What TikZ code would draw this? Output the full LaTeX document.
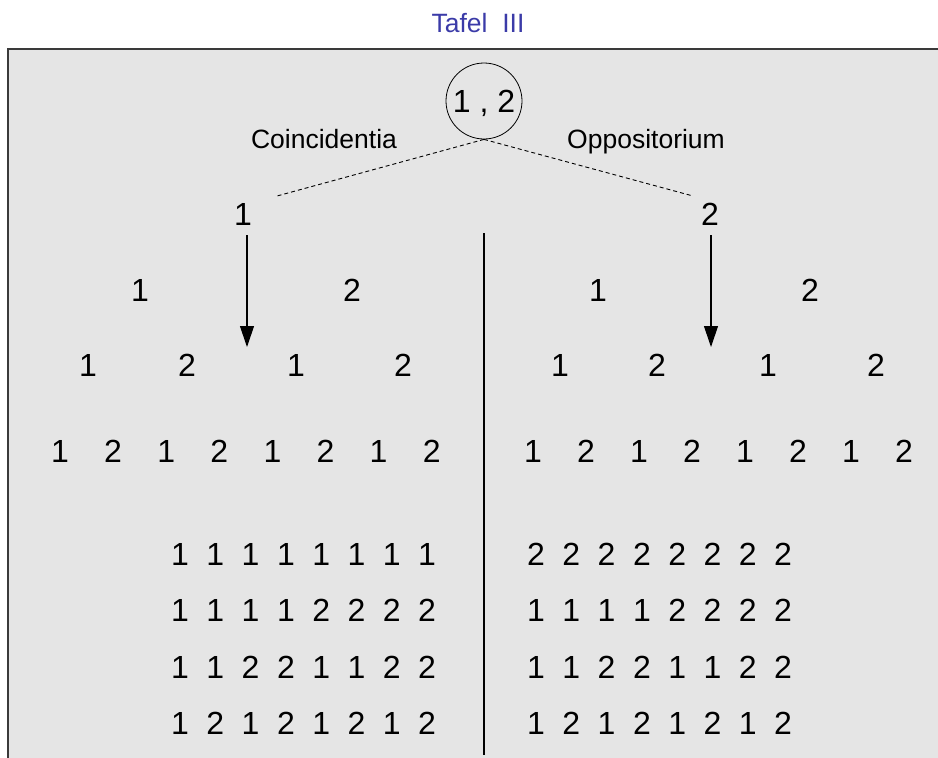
\documentclass[tikz,border=0pt]{standalone}
\usepackage{fontspec}
\setmainfont{Liberation Sans}
\usepackage{tikz}
\usetikzlibrary{arrows.meta}
\definecolor{feld}{HTML}{E5E5E5}
\definecolor{rand}{HTML}{3A3A3A}
\definecolor{titel}{HTML}{3B3BA8}
\tikzset{
  ziffer/.style={anchor=base,inner sep=0pt,font=\fontsize{32}{38}\selectfont},
  wort/.style={anchor=base,inner sep=0pt,font=\fontsize{26.5}{31}\selectfont},
  hilf/.style={black,dash pattern=on 4pt off 3pt,line width=0.9pt},
  pfeil/.style={-{Triangle[length=21pt,width=14pt]},black,line width=1.1pt},
  trenn/.style={black,line width=1.5pt},
}

\begin{document}
\begin{tikzpicture}[x=1pt,y=-1pt]
  \useasboundingbox (0,0) rectangle (938,758);
  % Tafel
  \fill[feld] (8,49) rectangle (960,780);
  \draw[rand,line width=1.6pt] (960,49) -- (8,49) -- (8,780);
  \node[anchor=base,inner sep=0pt,titel,font=\fontsize{26.5}{31}\selectfont] (tafel) at (478,32) {Tafel\ \ III};

  % Wurzel mit beiden Aesten
  \node[circle,draw,line width=0.8pt,minimum size=76pt,inner sep=0pt,text depth=0pt,
        font=\fontsize{32}{38}\selectfont] (wurzel) at (484,101) {1 , 2};
  \node[wort] (coinc) at (324,148) {Coincidentia};
  \node[wort] (oppos) at (646,148) {Oppositorium};
  \coordinate (al) at (277,196);
  \coordinate (ar) at (693,196);
  \draw[hilf] (wurzel.south) -- (al);
  \draw[hilf] (wurzel.south) -- (ar);
  \node[ziffer] (eins) at (243,225) {1};
  \node[ziffer] (zwei) at (710,225) {2};

  % Pfeile und Trennlinie
  \coordinate (pl) at (247,235);
  \coordinate (pr) at (711,235);
  \draw[pfeil] (pl) -- (247,347);
  \draw[pfeil] (pr) -- (711,347);
  \coordinate (st) at (484,233);
  \coordinate (sb) at (484,755);
  \draw[trenn] (st) -- (sb);

  % Verzweigung
  \foreach \x/\d [count=\i] in {140/1,352/2,598/1,810/2}
    \node[ziffer] (b\i) at (\x,301) {\d};
  \foreach \x/\d [count=\i] in {88/1,187/2,296/1,403/2,560/1,657/2,768/1,876/2}
    \node[ziffer] (c\i) at (\x,376) {\d};
  \foreach \d [count=\i from 0] in {1,2,1,2,1,2,1,2} {
    \node[ziffer] (dl\i) at ({60+53.1*\i},462) {\d};
    \node[ziffer] (dr\i) at ({533+53.0*\i},462) {\d};
  }

  % Schemata links
  \foreach \d [count=\i from 0] in {1,1,1,1,1,1,1,1}
    \node[ziffer] (la\i) at ({180+35.3*\i},565) {\d};
  \foreach \d [count=\i from 0] in {1,1,1,1,2,2,2,2}
    \node[ziffer] (lb\i) at ({180+35.3*\i},621.5) {\d};
  \foreach \d [count=\i from 0] in {1,1,2,2,1,1,2,2}
    \node[ziffer] (lc\i) at ({180+35.3*\i},678) {\d};
  \foreach \d [count=\i from 0] in {1,2,1,2,1,2,1,2}
    \node[ziffer] (ld\i) at ({180+35.3*\i},734.5) {\d};

  % Schemata rechts
  \foreach \d [count=\i from 0] in {2,2,2,2,2,2,2,2}
    \node[ziffer] (ra\i) at ({536+35.3*\i},565) {\d};
  \foreach \d [count=\i from 0] in {1,1,1,1,2,2,2,2}
    \node[ziffer] (rb\i) at ({536+35.3*\i},621.5) {\d};
  \foreach \d [count=\i from 0] in {1,1,2,2,1,1,2,2}
    \node[ziffer] (rc\i) at ({536+35.3*\i},678) {\d};
  \foreach \d [count=\i from 0] in {1,2,1,2,1,2,1,2}
    \node[ziffer] (rd\i) at ({536+35.3*\i},734.5) {\d};
\end{tikzpicture}
\end{document}
